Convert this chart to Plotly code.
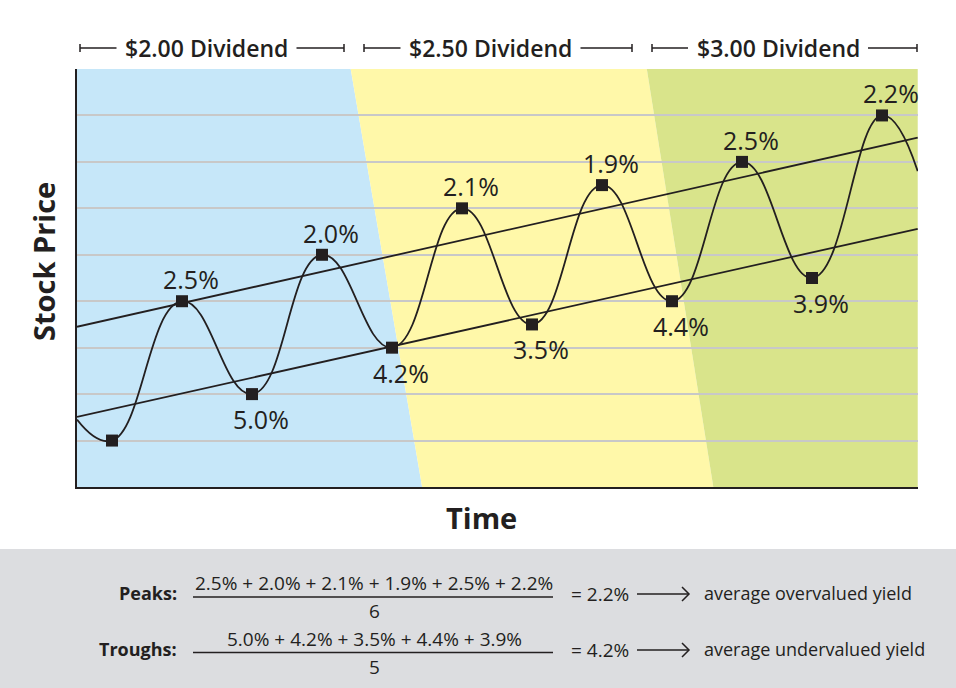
import plotly.graph_objects as go

# turning points of the price wave (x = period, y = price in grid steps)
turn_x = [0.5, 1.5, 2.5, 3.5, 4.5, 5.5, 6.5, 7.5, 8.5, 9.5, 10.5, 11.5]
turn_price = [1.0, 4.0, 2.0, 5.0, 3.0, 6.0, 3.5, 6.5, 4.0, 7.0, 4.5, 8.0]
turn_yield = ["", "2.5%", "5.0%", "2.0%", "4.2%", "2.1%", "3.5%", "1.9%", "4.4%", "2.5%", "3.9%", "2.2%"]

# where the wave enters / leaves the chart
wave_in = [0.0, 1.45]
wave_out = [12.01, 6.8]

# channel lines, value at the left and right edge
channel_x = [0.0, 12.01]
upper_channel = [3.45, 7.52]
lower_channel = [1.51, 5.56]

# dividend eras, boundary x at top and bottom of the chart
era_names = ["$2.00 Dividend", "$2.50 Dividend", "$3.00 Dividend"]
era_top = [0.0, 3.91, 8.14, 12.01]
era_bottom = [0.0, 4.93, 9.09, 12.01]

peak_yields = ["2.5%", "2.0%", "2.1%", "1.9%", "2.5%", "2.2%"]
trough_yields = ["5.0%", "4.2%", "3.5%", "4.4%", "3.9%"]
peak_avg = "2.2%"
trough_avg = "4.2%"

INK = "#231f20"
FONT = "Open Sans"
era_fill = ["#c6e7f9", "#fff8a9", "#d9e48b"]

W, H = 956, 688
L, R, T, B = 77, 918, 69, 487


def px(X):  # pixel -> paper x
    return (X - L) / (R - L)


def py(Y):  # pixel -> paper y
    return (B - Y) / (B - T)


def note(X, Y, text, size=18, weight=400, xa="center", ya="middle", **kw):
    return dict(x=px(X), y=py(Y), xref="paper", yref="paper", text=text,
                showarrow=False, xanchor=xa, yanchor=ya,
                font=dict(family=FONT, size=size, color=INK, weight=weight), **kw)


fig = go.Figure()

# channel lines
fig.add_trace(go.Scatter(x=channel_x, y=upper_channel, mode="lines",
                         line=dict(color=INK, width=1.8), hoverinfo="skip"))
fig.add_trace(go.Scatter(x=channel_x, y=lower_channel, mode="lines",
                         line=dict(color=INK, width=1.8), hoverinfo="skip"))

# the price wave
wave_x = [wave_in[0]] + turn_x + [wave_out[0]]
wave_y = [wave_in[1]] + turn_price + [wave_out[1]]
fig.add_trace(go.Scatter(x=wave_x, y=wave_y, mode="lines",
                         line=dict(color=INK, width=1.8, shape="spline", smoothing=1.3),
                         hoverinfo="skip"))
fig.add_trace(go.Scatter(x=turn_x, y=turn_price, mode="markers",
                         marker=dict(symbol="square", size=12, color=INK),
                         text=turn_yield, hoverinfo="text"))

annotations = []
shapes = []

# yield labels above peaks / below troughs
for i, (x, y, lab) in enumerate(zip(turn_x, turn_price, turn_yield)):
    if not lab:
        continue
    peak = i % 2 == 1
    annotations.append(dict(x=x, y=y, text=lab, showarrow=False,
                            xanchor="center", yanchor="middle",
                            xshift=9, yshift=22 if peak else -25,
                            font=dict(family=FONT, size=25, color=INK)))

# era backgrounds
for k in range(3):
    path = (f"M {era_top[k]},9 L {era_top[k+1]},9 L {era_bottom[k+1]},0 "
            f"L {era_bottom[k]},0 Z")
    shapes.append(dict(type="path", path=path, xref="x", yref="y",
                       fillcolor=era_fill[k], line=dict(width=0), layer="below"))

# era headers with brackets
brackets = [(80, 344, 206.5), (364, 632, 490.5), (652, 917, 778)]
for name, (a, b, c) in zip(era_names, brackets):
    yb = py(48)
    for x0, x1 in [(a, c - 90), (c + 90, b)]:
        shapes.append(dict(type="line", xref="paper", yref="paper",
                           x0=px(x0), x1=px(x1), y0=yb, y1=yb,
                           line=dict(color=INK, width=1.5)))
    for xe in (a, b):
        shapes.append(dict(type="line", xref="paper", yref="paper",
                           x0=px(xe), x1=px(xe), y0=py(44), y1=py(52),
                           line=dict(color=INK, width=1.5)))
    annotations.append(note(c, 48, name, size=23, weight=600))

# axis titles
annotations.append(note(43, 262, "Stock Price", size=29, weight=700, textangle=-90))
annotations.append(note(481, 517, "Time", size=29, weight=700))

# grey formula panel
shapes.append(dict(type="rect", xref="paper", yref="paper", layer="below",
                   x0=px(-5), x1=px(W + 5), y0=py(549), y1=py(H + 5),
                   fillcolor="#dcdde0", line=dict(width=0)))

rows = [("Peaks:", peak_yields, peak_avg, "average overvalued yield", 593, 597),
        ("Troughs:", trough_yields, trough_avg, "average undervalued yield", 649, 652.5)]
for head, vals, avg, desc, yc, yl in rows:
    annotations.append(note(179, yc, head, weight=700, xa="right"))
    annotations.append(note(374, yl - 14, " + ".join(vals), size=19))
    annotations.append(note(374, yl + 14, str(len(vals)), size=19))
    shapes.append(dict(type="line", xref="paper", yref="paper",
                       x0=px(193), x1=px(553), y0=py(yl), y1=py(yl),
                       line=dict(color=INK, width=1.5)))
    annotations.append(note(569, yc + 1, "= " + avg, size=19, xa="left"))
    # arrow
    shapes.append(dict(type="line", xref="paper", yref="paper",
                       x0=px(637), x1=px(688), y0=py(yc + 1), y1=py(yc + 1),
                       line=dict(color=INK, width=1.5)))
    shapes.append(dict(type="path", xref="paper", yref="paper",
                       path=f"M {px(682)},{py(yc - 6)} L {px(689)},{py(yc + 1)} L {px(682)},{py(yc + 8)}",
                       line=dict(color=INK, width=1.5)))
    annotations.append(note(702, yc, desc, xa="left"))

fig.update_layout(
    width=W, height=H,
    margin=dict(l=L, r=W - R, t=T, b=H - B),
    paper_bgcolor="white", plot_bgcolor="white",
    showlegend=False,
    shapes=shapes, annotations=annotations,
    xaxis=dict(range=[0, 12.014], showgrid=False, zeroline=False, showticklabels=False,
               showline=True, linecolor=INK, linewidth=2, ticks="", fixedrange=True),
    yaxis=dict(range=[0, 9], dtick=1, tick0=0, showgrid=True, gridcolor="#c8c8c8",
               gridwidth=2, zeroline=False, showticklabels=False,
               showline=True, linecolor=INK, linewidth=2, ticks="", fixedrange=True),
)

fig.write_html("out.html", config={"displayModeBar": False},
               post_script="document.body.style.margin='0';")
